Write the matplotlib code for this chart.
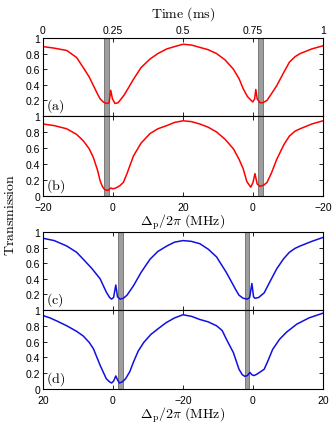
import matplotlib
matplotlib.use("Agg")
import matplotlib.pyplot as plt

plt.rcParams['font.family'] = ['Liberation Sans', 'DejaVu Sans']
plt.rcParams['mathtext.fontset'] = 'cm'

# sweep coordinate (fraction of 1 ms) for each trace
t_a = [0, 0.04, 0.085, 0.12, 0.144, 0.165, 0.18, 0.195, 0.204, 0.215, 0.227, 0.236, 0.242, 0.248,
       0.257, 0.268, 0.275, 0.29, 0.305, 0.323, 0.35, 0.382, 0.41, 0.442, 0.47, 0.5, 0.53, 0.56,
       0.59, 0.62, 0.65, 0.68, 0.70, 0.715, 0.73, 0.749, 0.756, 0.76, 0.765, 0.775, 0.785, 0.8,
       0.815, 0.835, 0.86, 0.88, 0.9, 0.918, 0.96, 1.0]
y_a = [0.89, 0.87, 0.84, 0.75, 0.62, 0.50, 0.39, 0.28, 0.22, 0.18, 0.16, 0.17, 0.33, 0.22,
       0.16, 0.17, 0.20, 0.27, 0.36, 0.47, 0.62, 0.73, 0.80, 0.86, 0.89, 0.92, 0.91, 0.88,
       0.85, 0.80, 0.72, 0.60, 0.48, 0.35, 0.25, 0.18, 0.22, 0.34, 0.22, 0.17, 0.17, 0.20,
       0.28, 0.39, 0.56, 0.69, 0.76, 0.80, 0.86, 0.90]

t_b = [0, 0.04, 0.085, 0.12, 0.144, 0.165, 0.18, 0.195, 0.204, 0.212, 0.22, 0.232, 0.242, 0.25,
       0.26, 0.275, 0.287, 0.3, 0.323, 0.35, 0.382, 0.41, 0.442, 0.47, 0.5, 0.53, 0.56, 0.59,
       0.62, 0.65, 0.68, 0.70, 0.715, 0.728, 0.742, 0.75, 0.757, 0.765, 0.775, 0.79, 0.8, 0.815,
       0.835, 0.86, 0.88, 0.9, 0.918, 0.96, 1.0]
y_b = [0.90, 0.88, 0.84, 0.77, 0.69, 0.59, 0.48, 0.32, 0.19, 0.12, 0.08, 0.07, 0.10, 0.09,
       0.10, 0.13, 0.17, 0.28, 0.50, 0.66, 0.78, 0.84, 0.88, 0.92, 0.94, 0.93, 0.90, 0.86,
       0.80, 0.71, 0.59, 0.46, 0.34, 0.18, 0.11, 0.17, 0.28, 0.15, 0.12, 0.14, 0.17, 0.28,
       0.46, 0.64, 0.75, 0.81, 0.84, 0.90, 0.94]

t_c = [0, 0.04, 0.085, 0.12, 0.144, 0.175, 0.204, 0.226, 0.238, 0.245, 0.252, 0.26, 0.266,
       0.275, 0.287, 0.3, 0.323, 0.35, 0.382, 0.41, 0.442, 0.47, 0.5, 0.53, 0.56, 0.59, 0.62,
       0.655, 0.69, 0.70, 0.715, 0.73, 0.738, 0.746, 0.752, 0.757, 0.77, 0.79, 0.81, 0.835,
       0.86, 0.88, 0.9, 0.918, 0.96, 1.0]
y_c = [0.92, 0.89, 0.82, 0.74, 0.65, 0.53, 0.40, 0.23, 0.16, 0.14, 0.16, 0.32, 0.17,
       0.14, 0.15, 0.19, 0.31, 0.48, 0.65, 0.75, 0.82, 0.87, 0.89, 0.88, 0.85, 0.78, 0.68,
       0.48, 0.25, 0.19, 0.15, 0.14, 0.16, 0.34, 0.17, 0.15, 0.16, 0.22, 0.36, 0.53,
       0.66, 0.74, 0.79, 0.82, 0.88, 0.93]

t_d = [0, 0.025, 0.05, 0.085, 0.12, 0.144, 0.165, 0.18, 0.204, 0.226, 0.238, 0.245, 0.252,
       0.26, 0.267, 0.273, 0.283, 0.295, 0.31, 0.323, 0.34, 0.36, 0.385, 0.41, 0.44, 0.47, 0.5,
       0.53, 0.56, 0.59, 0.62, 0.64, 0.655, 0.68, 0.70, 0.712, 0.721, 0.73, 0.739, 0.746, 0.754,
       0.765, 0.79, 0.805, 0.82, 0.845, 0.87, 0.906, 0.95, 1.0]
y_d = [0.93, 0.90, 0.86, 0.80, 0.73, 0.67, 0.59, 0.51, 0.30, 0.13, 0.09, 0.076, 0.10,
       0.165, 0.11, 0.076, 0.09, 0.13, 0.22, 0.34, 0.48, 0.59, 0.69, 0.76, 0.84, 0.90, 0.94,
       0.92, 0.88, 0.85, 0.80, 0.74, 0.63, 0.46, 0.25, 0.18, 0.16, 0.17, 0.21, 0.18, 0.17,
       0.19, 0.25, 0.37, 0.50, 0.63, 0.72, 0.82, 0.90, 0.96]

# gray marker bands (in sweep coordinate)
bands_top = [(0.219, 0.236), (0.769, 0.786)]
bands_bot = [(0.269, 0.285), (0.720, 0.737)]

tick_pos = [0, 0.25, 0.5, 0.75, 1]
time_labels = ['0', '0.25', '0.5', '0.75', '1']
det_labels_b = ['\u221220', '0', '20', '0', '\u221220']
det_labels_d = ['20', '0', '\u221220', '0', '20']

W, H = 335, 427
fig = plt.figure(figsize=(W / 100, H / 100), dpi=100)
left, width = 43 / W, 280 / W
rows = [(39, 117), (117, 197), (233, 311), (311, 390)]
axes = []
for top, bot in rows:
    axes.append(fig.add_axes([left, 1 - bot / H, width, (bot - top) / H]))

panels = [(t_a, y_a, 'red', bands_top, '(a)'),
          (t_b, y_b, 'red', bands_top, '(b)'),
          (t_c, y_c, '#1010e0', bands_bot, '(c)'),
          (t_d, y_d, '#1010e0', bands_bot, '(d)')]

for i, (ax, (t, y, col, bands, lab)) in enumerate(zip(axes, panels)):
    for b0, b1 in bands:
        ax.axvspan(b0, b1, facecolor='0.62', edgecolor='0.42', lw=0.6, zorder=1)
    ax.plot(t, y, color=col, lw=1.1, zorder=2)
    ax.set_xlim(0, 1)
    ax.set_ylim(0, 1)
    ax.set_xticks(tick_pos)
    ax.tick_params(direction='in', length=3, width=0.6, top=True, right=True,
                   labelsize=7.5)
    ax.tick_params(axis='y', pad=2)
    ax.tick_params(axis='x', pad=4)
    for s in ax.spines.values():
        s.set_linewidth(0.8)
    if i in (0, 2):
        ax.set_yticks([0.2, 0.4, 0.6, 0.8, 1])
        ax.set_yticklabels(['0.2', '0.4', '0.6', '0.8', '1'])
    else:
        ax.set_yticks([0, 0.2, 0.4, 0.6, 0.8, 1])
        ax.set_yticklabels(['0', '0.2', '0.4', '0.6', '0.8', '1'])
    ax.text(0.012, 0.14, r'$\mathrm{' + lab + '}$', transform=ax.transAxes,
            fontsize=10, va='center', ha='left')

axes[0].tick_params(labeltop=True, labelbottom=False, pad=2)
axes[0].set_xticklabels(time_labels)
axes[1].set_xticklabels(det_labels_b)
axes[2].tick_params(labelbottom=False)
axes[3].set_xticklabels(det_labels_d)

axes[1].set_xlabel(r'$\Delta_{\mathrm{p}}/2\pi\ \mathrm{(MHz)}$', fontsize=10, labelpad=0)
axes[3].set_xlabel(r'$\Delta_{\mathrm{p}}/2\pi\ \mathrm{(MHz)}$', fontsize=10, labelpad=0)

fig.text(183 / W, 1 - 14 / H, r'$\mathrm{Time\ (ms)}$', fontsize=10, ha='center', va='center')
fig.text(10 / W, 1 - 215 / H, r'$\mathrm{Transmission}$', fontsize=10, rotation=90,
         ha='center', va='center')

fig.savefig('out.png', dpi=100)
